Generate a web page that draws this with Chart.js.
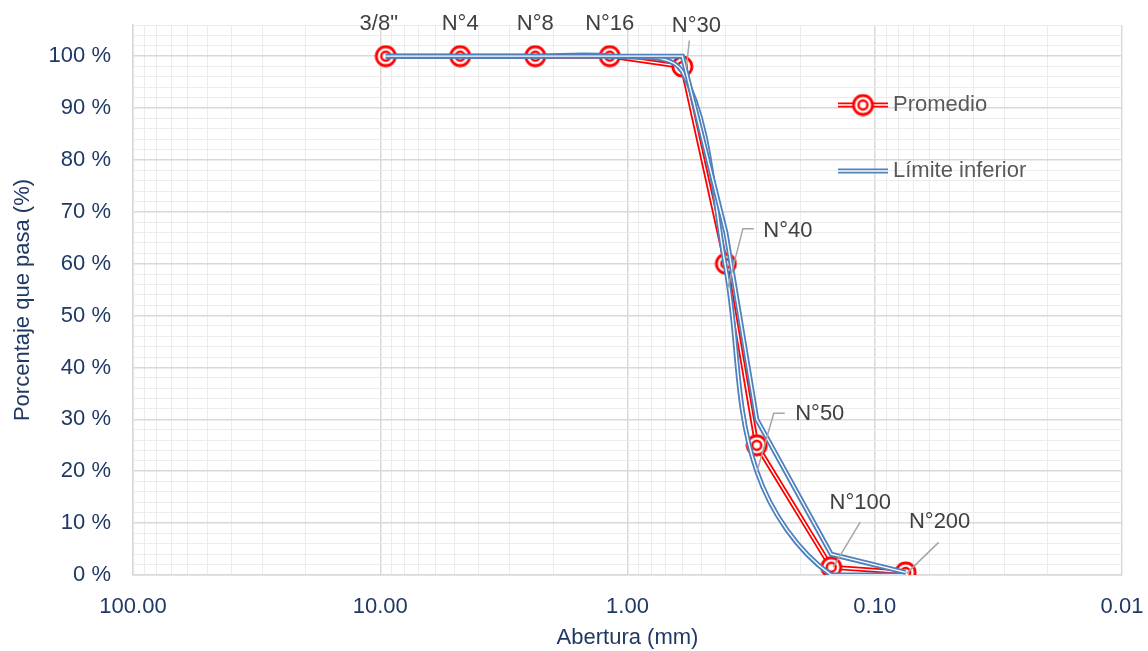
<!DOCTYPE html>
<html>
<head>
<meta charset="utf-8">
<script src="https://cdn.jsdelivr.net/npm/chart.js@4/dist/chart.umd.min.js"></script>
<style>
  html, body { margin: 0; padding: 0; background: #fff; }
  #wrap { width: 1148px; height: 651px; position: relative; }
</style>
</head>
<body>
<div id="wrap"><canvas id="curva" width="1148" height="651"></canvas></div>
<script>
// datos de la curva granulometrica
var tamices = ['3/8"', 'N°4', 'N°8', 'N°16', 'N°30', 'N°40', 'N°50', 'N°100', 'N°200'];
var abertura = [9.5, 4.75, 2.36, 1.18, 0.6, 0.4, 0.3, 0.15, 0.075];
var promedio = [100, 100, 100, 100, 98, 60, 25, 1.5, 0.5];
var limiteInferior = [100, 100, 100, 100, 97, 59, 20, 0, 0];
var limiteSuperior = [100, 100, 100, 100, 100, 66, 30, 4, 0.5];
var xTickLabels = ['100.00', '10.00', '1.00', '0.10', '0.01'];
var leyenda = ['Promedio', 'Límite inferior'];

var ROJO = '#ff0000';
var AZUL = '#4f81bd';
var FUENTE = "'Liberation Sans', Arial, sans-serif";
var AZUL_TEXTO = '#1f3864';
var TAM = 22;

// posicion de las etiquetas respecto al punto (px)
var etiquetaOffset = [[-7,-32],[0,-32],[0,-32],[0,-32],[14,-41],[62,-33],[63,-31],[29,-64],[34,-50]];
var guias = [null, null, null, null,
  [[7,-26],[4,1]],
  [[28,-35],[17,-35],[2,24]],
  [[28,-32],[17,-32],[0,27]],
  [[29,-45],[2,0]],
  [[33,-30],[1,1]]];

function pares(vals) {
  var out = [];
  for (var i = 0; i < abertura.length; i++) out.push({x: abertura[i], y: vals[i]});
  return out;
}

// marcador doble circulo
function marcador(r) {
  var c = document.createElement('canvas');
  var s = r * 2 + 4;
  c.width = s; c.height = s;
  var g = c.getContext('2d');
  var m = s / 2;
  g.beginPath(); g.arc(m, m, r, 0, Math.PI * 2);
  g.fillStyle = '#fff'; g.fill();
  g.lineWidth = 2.8; g.strokeStyle = ROJO; g.stroke();
  g.beginPath(); g.arc(m, m, r * 0.47, 0, Math.PI * 2);
  g.lineWidth = 2.4; g.stroke();
  return c;
}
var puntoRojo = marcador(9.5);

var etiquetas = {
  id: 'etiquetas',
  afterDatasetsDraw: function(chart) {
    var ctx = chart.ctx;
    var meta = chart.getDatasetMeta(1);
    ctx.save();
    ctx.font = TAM + 'px ' + FUENTE;
    ctx.textAlign = 'center';
    ctx.textBaseline = 'middle';
    for (var i = 0; i < tamices.length; i++) {
      var p = meta.data[i];
      var g = guias[i];
      if (g) {
        ctx.beginPath();
        ctx.strokeStyle = '#a6a6a6';
        ctx.lineWidth = 1.5;
        ctx.moveTo(p.x + g[0][0], p.y + g[0][1]);
        for (var k = 1; k < g.length; k++) ctx.lineTo(p.x + g[k][0], p.y + g[k][1]);
        ctx.stroke();
      }
      ctx.fillStyle = '#404040';
      ctx.fillText(tamices[i], p.x + etiquetaOffset[i][0], p.y + etiquetaOffset[i][1]);
    }

    // leyenda dentro del area
    var lx = 838, ly = [105, 171];
    var colores = [ROJO, AZUL];
    for (var j = 0; j < leyenda.length; j++) {
      ctx.lineWidth = 5;
      ctx.strokeStyle = colores[j];
      ctx.beginPath(); ctx.moveTo(lx, ly[j]); ctx.lineTo(lx + 50, ly[j]); ctx.stroke();
      ctx.lineWidth = 1.4;
      ctx.strokeStyle = '#fff';
      ctx.beginPath(); ctx.moveTo(lx, ly[j]); ctx.lineTo(lx + 50, ly[j]); ctx.stroke();
      if (j == 0) ctx.drawImage(puntoRojo, lx + 25 - puntoRojo.width / 2, ly[j] - puntoRojo.height / 2);
      ctx.fillStyle = '#595959';
      ctx.textAlign = 'left';
      ctx.fillText(leyenda[j], lx + 55, ly[j]);
    }
    ctx.restore();
  }
};

var ctx = document.getElementById('curva').getContext('2d');
new Chart(ctx, {
  type: 'line',
  data: {
    datasets: [
      {data: pares(promedio), borderColor: ROJO, borderWidth: 5, pointRadius: 0, tension: 0, order: 5},
      {data: pares(promedio), borderColor: '#fff', borderWidth: 1.4, pointStyle: puntoRojo, pointRadius: 9, tension: 0, order: 4},
      {data: pares(limiteInferior), borderColor: AZUL, borderWidth: 5, pointRadius: 0, tension: 0.35, order: 3},
      {data: pares(limiteInferior), borderColor: '#fff', borderWidth: 1.4, pointRadius: 0, tension: 0.35, order: 2},
      {data: pares(limiteSuperior), borderColor: AZUL, borderWidth: 5, pointRadius: 0, tension: 0, order: 1},
      {data: pares(limiteSuperior), borderColor: '#fff', borderWidth: 1.4, pointRadius: 0, tension: 0, order: 0}
    ]
  },
  options: {
    responsive: false,
    animation: false,
    events: [],
    layout: {padding: {top: 25, right: 26, left: 6, bottom: 0}},
    plugins: {legend: {display: false}, tooltip: {enabled: false}},
    scales: {
      x: {
        type: 'logarithmic',
        reverse: true,
        min: 0.01,
        max: 100,
        afterBuildTicks: function(axis) {
          var t = [];
          for (var e = -2; e <= 1; e++) {
            for (var s = 1; s <= 9; s++) t.push({value: s * Math.pow(10, e)});
          }
          t.push({value: 100});
          axis.ticks = t;
        },
        afterFit: function(axis) { axis.height = 76; },
        ticks: {
          autoSkip: false,
          maxRotation: 0,
          padding: 19,
          color: AZUL_TEXTO,
          font: {family: FUENTE, size: TAM},
          callback: function(v) {
            var l = Math.log10(v);
            if (Math.abs(l - Math.round(l)) < 1e-9) return xTickLabels[2 - Math.round(l)];
            return '';
          }
        },
        grid: {
          drawTicks: false,
          lineWidth: function(c) {
            var l = Math.log10(c.tick.value);
            return Math.abs(l - Math.round(l)) < 1e-9 ? 1.5 : 1;
          },
          color: function(c) {
            var l = Math.log10(c.tick.value);
            return Math.abs(l - Math.round(l)) < 1e-9 ? '#d9d9d9' : '#ececec';
          }
        },
        border: {color: '#d9d9d9', width: 1.5},
        title: {display: true, text: 'Abertura (mm)', color: AZUL_TEXTO, font: {family: FUENTE, size: TAM}, padding: {top: 4, bottom: 0}}
      },
      y: {
        min: 0,
        max: 106,
        afterFit: function(axis) { axis.width = 127; },
        ticks: {
          stepSize: 2,
          autoSkip: false,
          padding: 2,
          color: AZUL_TEXTO,
          font: {family: FUENTE, size: TAM},
          callback: function(v) { return (v % 10 === 0 && v <= 100) ? v + ' %' : ''; }
        },
        grid: {
          drawTicks: true,
          tickLength: 20,
          tickColor: 'rgba(0,0,0,0)',
          lineWidth: function(c) { return c.tick.value % 10 === 0 ? 1.5 : 1; },
          color: function(c) { return c.tick.value % 10 === 0 ? '#d9d9d9' : '#ececec'; }
        },
        border: {color: '#d9d9d9', width: 1.5},
        title: {display: true, text: 'Porcentaje que pasa (%)', color: AZUL_TEXTO, font: {family: FUENTE, size: TAM}, padding: {bottom: 4}}
      }
    }
  },
  plugins: [etiquetas]
});
</script>
</body>
</html>
